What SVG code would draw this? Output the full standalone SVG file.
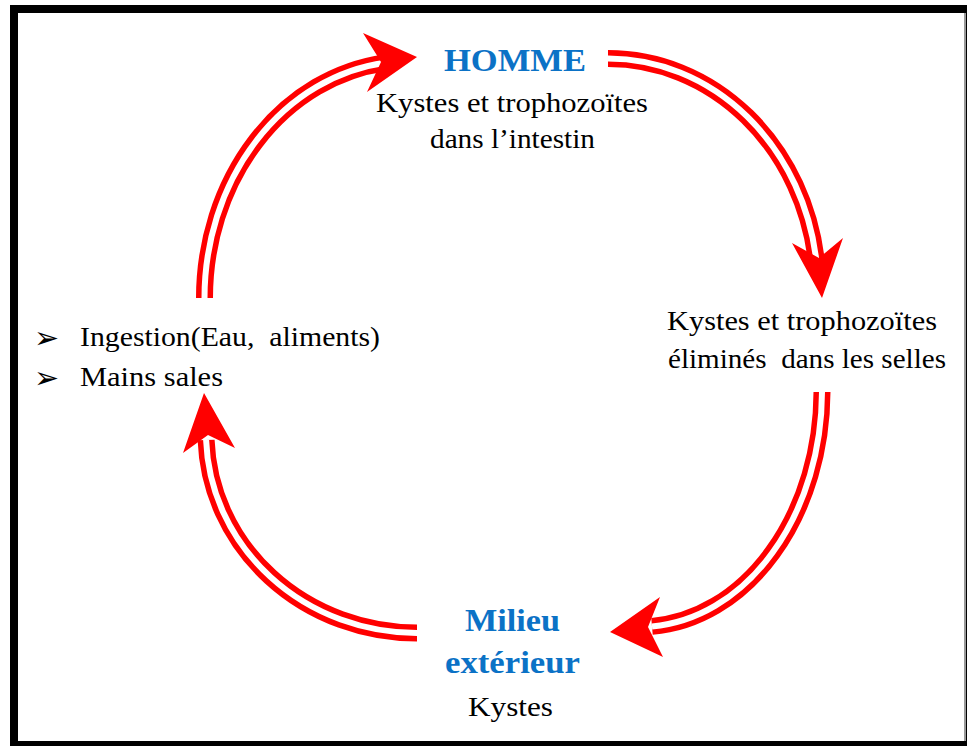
<svg xmlns="http://www.w3.org/2000/svg" width="967" height="746" viewBox="0 0 967 746">
<style>
.t{font-family:"Liberation Serif","Times New Roman",serif;font-size:27px;fill:#000;}
.b{font-family:"Liberation Serif","Times New Roman",serif;font-size:31px;font-weight:bold;fill:#0B72C6;}
.bul{font-family:"DejaVu Sans",sans-serif;font-size:30px;fill:#000;}
.red{fill:none;stroke:#FF0000;stroke-width:17;}
.wht{fill:none;stroke:#FFFFFF;stroke-width:6;}
.head{fill:#FF0000;}
</style>
<defs>
<path id="a1" d="M204.5,298 A205.5,237 0 0 1 385,62.8"/>
<path id="a2" d="M608,58.5 A210,231.5 0 0 1 816.5,262"/>
<path id="a3" d="M822,392 A182,236 0 0 1 652,626.4"/>
<path id="a4" d="M417,633 A211,200 0 0 1 206.1,440"/>
</defs>
<g id="frame">
<rect x="10" y="5" width="957" height="741" fill="#000"/>
<rect x="18" y="13" width="946" height="728" fill="#fff"/>
<rect x="964" y="13" width="2" height="728" fill="#999"/>
</g>
<g id="connectors">
<use href="#a1" class="red"/><use href="#a1" class="wht"/>
<polygon class="head" points="417,57 363,33 381,62 367,92"/>
<use href="#a2" class="red"/><use href="#a2" class="wht"/>
<polygon class="head" points="822,298 792,243 819,258 843,238"/>
<use href="#a3" class="red"/><use href="#a3" class="wht"/>
<polygon class="head" points="610,632 660,597 648,627 663,657"/>
<use href="#a4" class="red"/><use href="#a4" class="wht"/>
<polygon class="head" points="204,393 183,453 208,435 235,448"/>
</g>
<g id="homme">
<text class="b" x="444" y="71" textLength="142" lengthAdjust="spacingAndGlyphs">HOMME</text>
<text class="t" x="376" y="112" textLength="272" lengthAdjust="spacingAndGlyphs">Kystes et trophozoïtes</text>
<text class="t" x="430" y="148" textLength="165" lengthAdjust="spacingAndGlyphs">dans l’intestin</text>
</g>
<g id="selles">
<text class="t" x="667" y="330" textLength="270" lengthAdjust="spacingAndGlyphs">Kystes et trophozoïtes</text>
<text class="t" x="668" y="368" textLength="278" lengthAdjust="spacingAndGlyphs" xml:space="preserve">éliminés  dans les selles</text>
</g>
<g id="milieu">
<text class="b" x="465" y="631" textLength="95" lengthAdjust="spacingAndGlyphs">Milieu</text>
<text class="b" x="445" y="673" textLength="135" lengthAdjust="spacingAndGlyphs">extérieur</text>
<text class="t" x="468" y="716" textLength="85" lengthAdjust="spacingAndGlyphs">Kystes</text>
</g>
<g id="ingestion">
<text class="bul" x="34" y="348">➢</text>
<text class="t" x="80" y="346" textLength="300" lengthAdjust="spacingAndGlyphs" xml:space="preserve">Ingestion(Eau,  aliments)</text>
<text class="bul" x="34" y="388">➢</text>
<text class="t" x="80" y="386" textLength="143" lengthAdjust="spacingAndGlyphs">Mains sales</text>
</g>
</svg>
